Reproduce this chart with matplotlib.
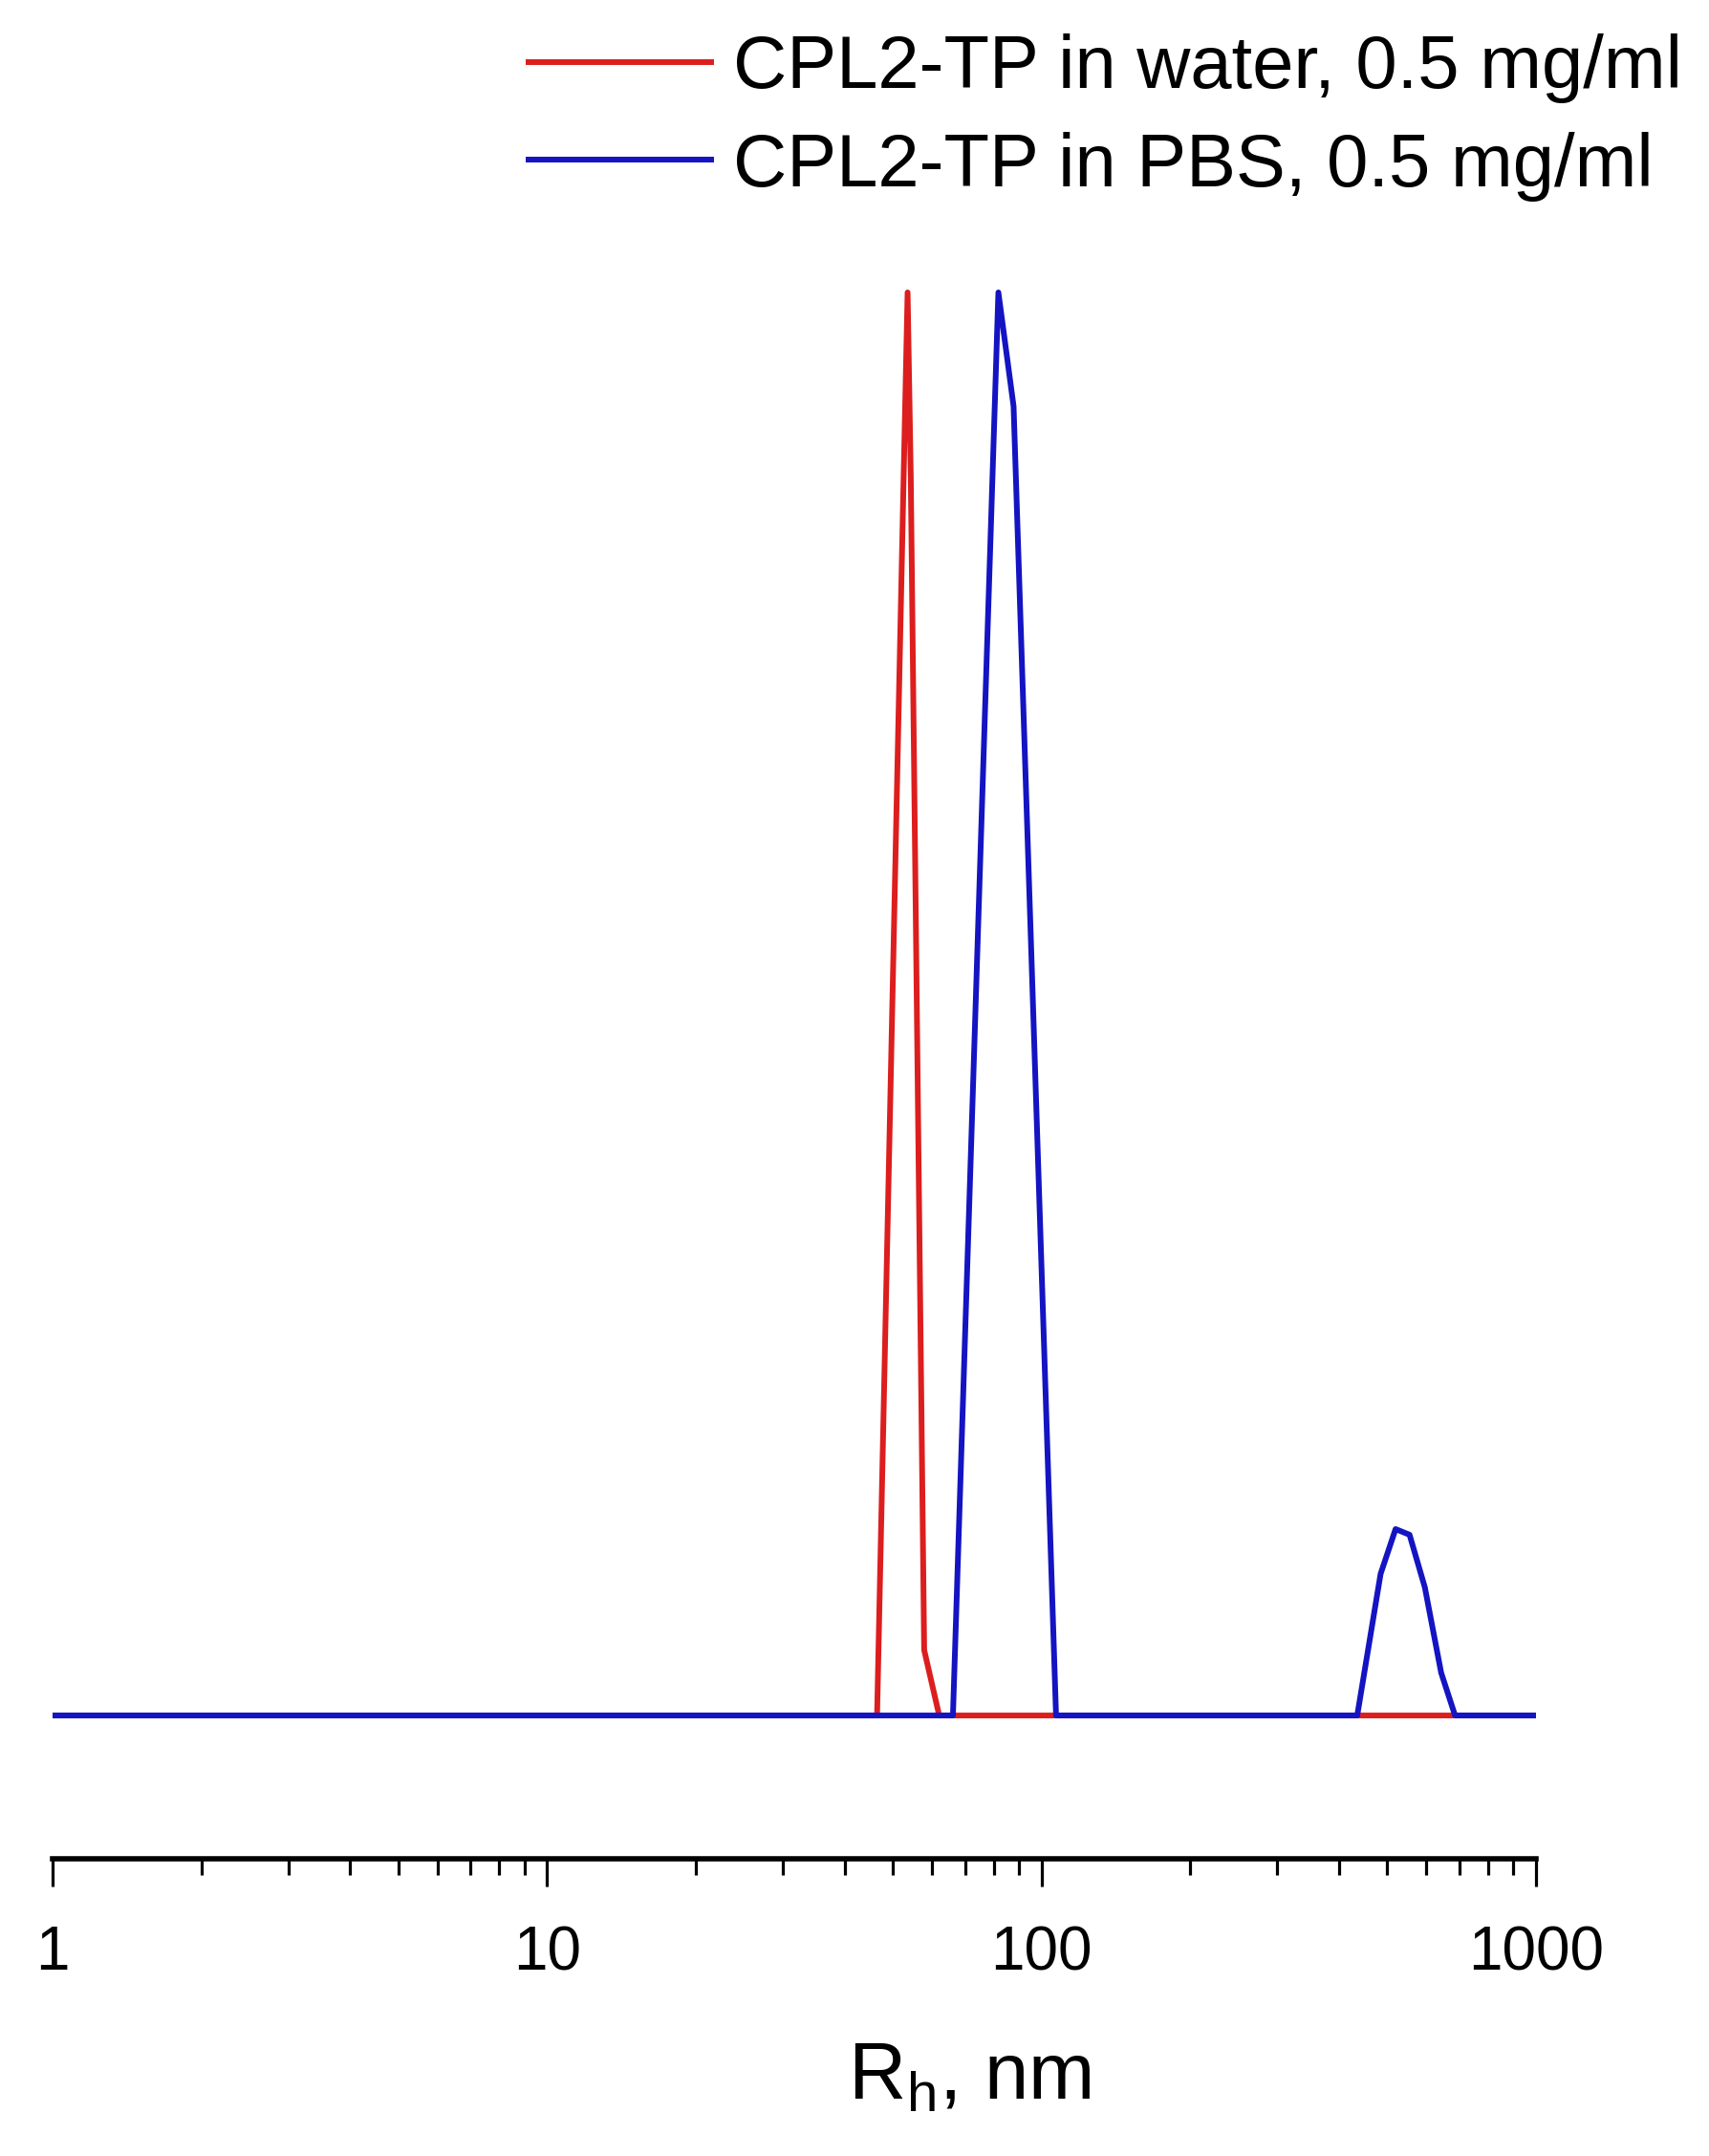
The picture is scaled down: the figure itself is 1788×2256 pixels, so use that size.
import numpy as np
import matplotlib
matplotlib.use("Agg")
import matplotlib.pyplot as plt
from matplotlib.ticker import LogLocator, NullFormatter, FixedFormatter, FixedLocator

plt.rcParams['font.family'] = ['Liberation Sans', 'DejaVu Sans']
plt.rcParams['mathtext.fontset'] = 'custom'
plt.rcParams['mathtext.rm'] = 'Liberation Sans'

# hydrodynamic radius distributions (normalised intensity)
water_rh = [1, 46.5, 53.6, 54.4, 57.9, 62.1, 1000]
water_int = [0, 0, 1.0, 0.87, 0.046, 0, 0]

pbs_rh = [1, 66.2, 81.8, 87.8, 107, 435, 485, 520, 555, 596, 643, 686, 1000]
pbs_int = [0, 0, 1.0, 0.92, 0, 0, 0.0995, 0.131, 0.127, 0.090, 0.030, 0, 0]

labels = ["CPL2-TP in water, 0.5 mg/ml", "CPL2-TP in PBS, 0.5 mg/ml"]
tick_vals = [1, 10, 100, 1000]
tick_text = ["1", "10", "100", "1000"]

W, H = 1788, 2256
fig = plt.figure(figsize=(W / 100, H / 100), dpi=100)
left, right, bottom, top = 55, 1607, 1945, 250
ax = fig.add_axes([left / W, 1 - bottom / H, (right - left) / W, (bottom - top) / H])

ax.plot(water_rh, water_int, color='#dc1e1e', lw=4.3, label=labels[0])
ax.plot(pbs_rh, pbs_int, color='#1414c2', lw=4.3, label=labels[1])

ax.set_xscale('log')
ax.set_xlim(1, 1000)
ax.set_ylim(-0.1007, 1.0376)

for s in ['left', 'top', 'right']:
    ax.spines[s].set_visible(False)
ax.spines['bottom'].set_linewidth(4)
ax.set_yticks([])

ax.xaxis.set_major_locator(FixedLocator(tick_vals))
ax.xaxis.set_major_formatter(FixedFormatter(tick_text))
ax.xaxis.set_minor_locator(LogLocator(base=10, subs=np.arange(2, 10)))
ax.xaxis.set_minor_formatter(NullFormatter())
ax.tick_params(axis='x', which='major', direction='out', length=21, width=2.3, labelsize=46, pad=29)
ax.tick_params(axis='x', which='minor', direction='out', length=12.5, width=2.3)

ax.set_xlabel(r'R$_\mathregular{h}$, nm', fontsize=60)
ax.xaxis.set_label_coords(0.618, -0.112)

ax.legend(loc='upper right', bbox_to_anchor=(1760 / W, 1 - 35 / H), bbox_transform=fig.transFigure,
          frameon=False, fontsize=56, handlelength=2.45, handletextpad=0.3, labelspacing=0.38,
          borderpad=0, borderaxespad=0)

fig.savefig('out.png', dpi=100)
